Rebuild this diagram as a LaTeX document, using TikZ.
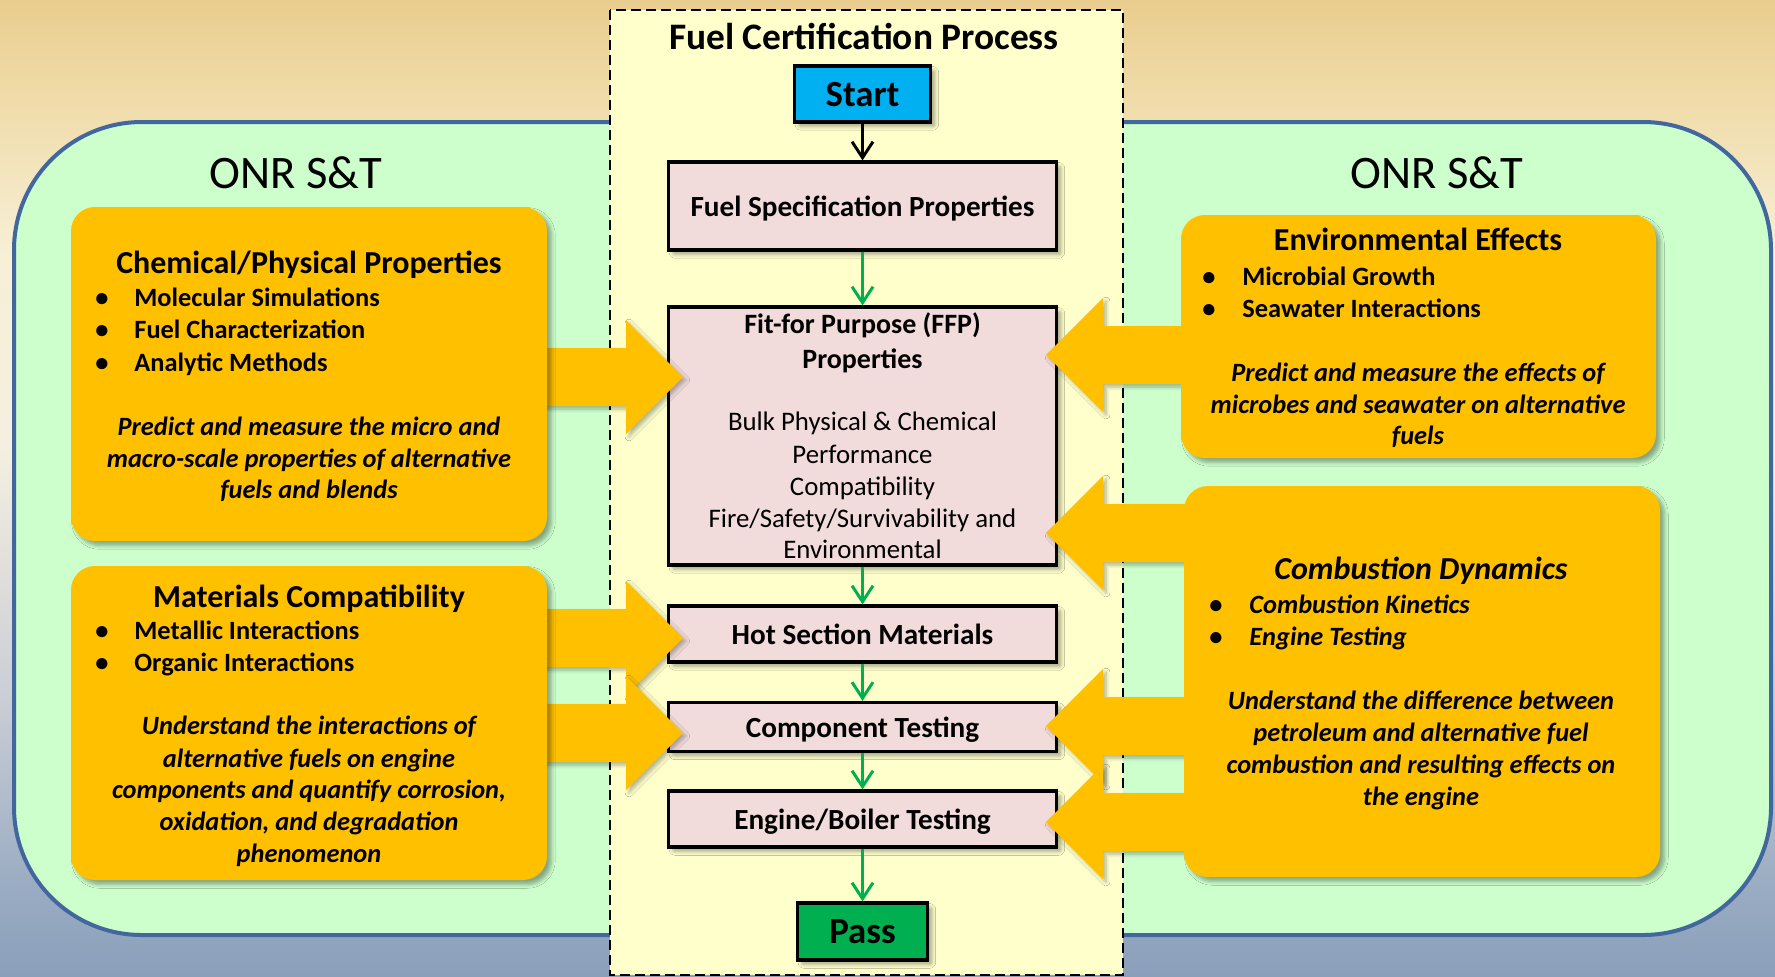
\documentclass[tikz,border=0pt]{standalone}
\usepackage{fontspec}
\setmainfont{Carlito}
\usetikzlibrary{shadows.blur,arrows.meta}

\definecolor{bgA}{HTML}{8A9FBA}
\definecolor{bgB}{HTML}{97AAC1}
\definecolor{bgC}{HTML}{C9CDD6}
\definecolor{bgD}{HTML}{F4EFE0}
\definecolor{bgE}{HTML}{F7EFD6}
\definecolor{bgF}{HTML}{F1DEAE}
\definecolor{bgG}{HTML}{E9CD8E}
\definecolor{onrgreen}{HTML}{CCFFCC}
\definecolor{onredge}{HTML}{41679E}
\definecolor{procyellow}{HTML}{FFFFCC}
\definecolor{amber}{HTML}{FFC000}
\definecolor{stepfill}{HTML}{F2DCDB}
\definecolor{startblue}{HTML}{00B0F0}
\definecolor{passgreen}{HTML}{00B050}
\definecolor{flowgreen}{HTML}{00B050}

\pgfdeclareverticalshading{backdrop}{100bp}{color(0bp)=(bgA); color(25bp)=(bgA);
  color(28.9bp)=(bgB); color(39bp)=(bgC); color(52bp)=(bgD); color(62bp)=(bgE);
  color(69bp)=(bgF); color(75bp)=(bgG); color(100bp)=(bgG)}

% block arrow pointing right, centred on height #1, shaft starting at #2
\newcommand\feedR[2]{%
  \fill[amber, arrowshadow] (#2,#1-29) -- (626,#1-29) -- (626,#1-57) -- (683,#1)
    -- (626,#1+57) -- (626,#1+29) -- (#2,#1+29) -- cycle;}
% block arrow pointing left, centred on height #1, shaft starting at #2
\newcommand\feedL[2]{%
  \fill[amber, arrowshadow] (#2,#1-29) -- (1103,#1-29) -- (1103,#1-57) -- (1046,#1)
    -- (1103,#1+57) -- (1103,#1+29) -- (#2,#1+29) -- cycle;}

\tikzset{
  softshadow/.style={blur shadow={shadow xshift=2.2pt, shadow yshift=-2.2pt,
      shadow opacity=35, shadow blur steps=6, shadow blur extra rounding=1pt}},
  arrowshadow/.style={blur shadow={shadow xshift=1.5pt, shadow yshift=-1.5pt,
      shadow opacity=30, shadow blur steps=5}},
  stepbox/.style={draw=black, line width=1.6pt, fill=stepfill, minimum width=194pt,
      inner sep=0pt, text height=10.4pt, text depth=0pt, softshadow,
      font=\bfseries\fontsize{14.6}{17}\selectfont},
  endbox/.style={draw=black, line width=1.6pt, inner sep=0pt, softshadow,
      text height=12pt, text depth=0pt, font=\bfseries\fontsize{18.4}{20}\selectfont},
  amberbox/.style={fill=amber, rounded corners=12pt, inner sep=0pt, softshadow},
  flow/.style={draw=flowgreen, line width=1.5pt, -{Straight Barb[length=8pt,width=10.5pt]}},
  startflow/.style={draw=black, line width=1.5pt, -{Straight Barb[length=8pt,width=10.5pt]}},
  label text/.style={inner sep=0pt, anchor=base},
  onr/.style={label text, font=\fontsize{23.3}{26}\selectfont},
  atitle/.style={label text, font=\bfseries\fontsize{16}{19}\selectfont},
  aitem/.style={label text, anchor=base west, font=\bfseries\fontsize{13.2}{16}\selectfont},
  adot/.style={label text, font=\bfseries\fontsize{13.2}{16}\selectfont},
  anote/.style={label text, font=\bfseries\itshape\fontsize{13.2}{16}\selectfont},
  ffphead/.style={label text, font=\bfseries\fontsize{14}{17}\selectfont},
  ffpbody/.style={label text, font=\fontsize{13.4}{16}\selectfont},
}

\begin{document}
\begin{tikzpicture}[x=0.5pt,y=-0.5pt]
\useasboundingbox (0,0) rectangle (1775,976);

% backdrop
\begin{scope}[y=0.5pt]
  \shade[shading=backdrop] (0,-976) rectangle (1775,0);
\end{scope}

% ONR S&T region
\draw[draw=onredge, line width=2pt, fill=onrgreen, rounded corners=64pt]
  (14,122) rectangle (1771,935);
\node[onr] (onrL) at (296,188) {ONR S\&T};
\node[onr] (onrR) at (1437,188) {ONR S\&T};

% certification process panel
\draw[fill=procyellow, line width=1pt, dash pattern=on 5pt off 2.5pt]
  (610,10) rectangle (1123,975);
\node[label text, font=\bfseries\fontsize{18.7}{21}\selectfont] (title) at (864,49)
  {Fuel Certification Process};

% process steps
\node[endbox, fill=startblue, minimum width=68pt, minimum height=28pt] (start) at (862.5,94) {Start};
\node[stepbox, minimum height=44pt] (fsp) at (862.5,206) {Fuel Specification Properties};
\node[stepbox, minimum height=129pt] (ffp) at (862.5,436) {};
\node[stepbox, minimum height=28pt] (hot) at (862.5,634) {Hot Section Materials};
\node[stepbox, minimum height=24.5pt] (comp) at (862.5,727) {Component Testing};
\node[stepbox, minimum height=28pt] (eng) at (862.5,819) {Engine/Boiler Testing};
\node[endbox, fill=passgreen, minimum width=65pt, minimum height=28.5pt] (pass) at (862.5,931.5) {Pass};

\foreach \y/\t [count=\i] in {333/{Fit-for Purpose (FFP)}, 368/Properties}
  \node[ffphead] (ffpH\i) at (862.5,\y) {\t};
\foreach \y/\t [count=\i] in {430/{Bulk Physical \& Chemical}, 463/Performance,
    495/Compatibility, 527/{Fire/Safety/Survivability and}, 558/Environmental}
  \node[ffpbody] (ffpB\i) at (862.5,\y) {\t};

% flow connectors
\draw[startflow] (start.south) -- (fsp.north);
\draw[flow] (fsp) -- (ffp);
\draw[flow] (ffp) -- (hot);
\draw[flow] (hot) -- (comp);
\draw[flow] (comp) -- (eng);
\draw[flow] (eng) -- (pass);

% block arrows feeding the process
\feedR{377}{520}
\feedR{638}{520}
\feedR{733}{520}
\feedL{355}{1210}
\feedL{533}{1210}
\feedL{726}{1210}
\feedL{822}{1210}

% research areas
\node[amberbox, minimum width=238pt, minimum height=167pt] (chem) at (309,374) {};
\node[amberbox, minimum width=238pt, minimum height=157pt] (mat) at (309,723) {};
\node[amberbox, minimum width=237.5pt, minimum height=121.5pt] (env) at (1418.5,336.5) {};
\node[amberbox, minimum width=238pt, minimum height=195.5pt] (comb) at (1422,681.5) {};

% Chemical/Physical Properties
\node[atitle] (chemT) at (309,273) {Chemical/Physical Properties};
\foreach \y/\t [count=\i] in {306/{Molecular Simulations}, 338/{Fuel Characterization}, 371/{Analytic Methods}}{
  \node[adot] (chemD\i) at (102,\y) {•};
  \node[aitem] (chemI\i) at (134,\y) {\t};
}
\foreach \y/\t [count=\i] in {435/{Predict and measure the micro and},
    467/{macro-scale properties of alternative}, 498/{fuels and blends}}
  \node[anote] (chemN\i) at (309,\y) {\t};

% Materials Compatibility
\node[atitle] (matT) at (309,607) {Materials Compatibility};
\foreach \y/\t [count=\i] in {639/{Metallic Interactions}, 671/{Organic Interactions}}{
  \node[adot] (matD\i) at (102,\y) {•};
  \node[aitem] (matI\i) at (134,\y) {\t};
}
\foreach \y/\t [count=\i] in {734/{Understand the interactions of},
    767/{alternative fuels on engine}, 798/{components and quantify corrosion,},
    830/{oxidation, and degradation}, 862/{phenomenon}}
  \node[anote] (matN\i) at (309,\y) {\t};

% Environmental Effects
\node[atitle] (envT) at (1418,250) {Environmental Effects};
\foreach \y/\t [count=\i] in {285/{Microbial Growth}, 317/{Seawater Interactions}}{
  \node[adot] (envD\i) at (1209,\y) {•};
  \node[aitem] (envI\i) at (1242,\y) {\t};
}
\foreach \y/\t [count=\i] in {381/{Predict and measure the effects of},
    413/{microbes and seawater on alternative}, 444/{fuels}}
  \node[anote] (envN\i) at (1418,\y) {\t};

% Combustion Dynamics
\node[atitle, font=\bfseries\itshape\fontsize{16}{19}\selectfont] (combT) at (1421,579) {Combustion Dynamics};
\foreach \y/\t [count=\i] in {613/{Combustion Kinetics}, 645/{Engine Testing}}{
  \node[adot] (combD\i) at (1216,\y) {•};
  \node[aitem, font=\bfseries\itshape\fontsize{13.2}{16}\selectfont] (combI\i) at (1249,\y) {\t};
}
\foreach \y/\t [count=\i] in {709/{Understand the difference between},
    741/{petroleum and alternative fuel}, 773/{combustion and resulting effects on},
    805/{the engine}}
  \node[anote] (combN\i) at (1421,\y) {\t};
\end{tikzpicture}
\end{document}
